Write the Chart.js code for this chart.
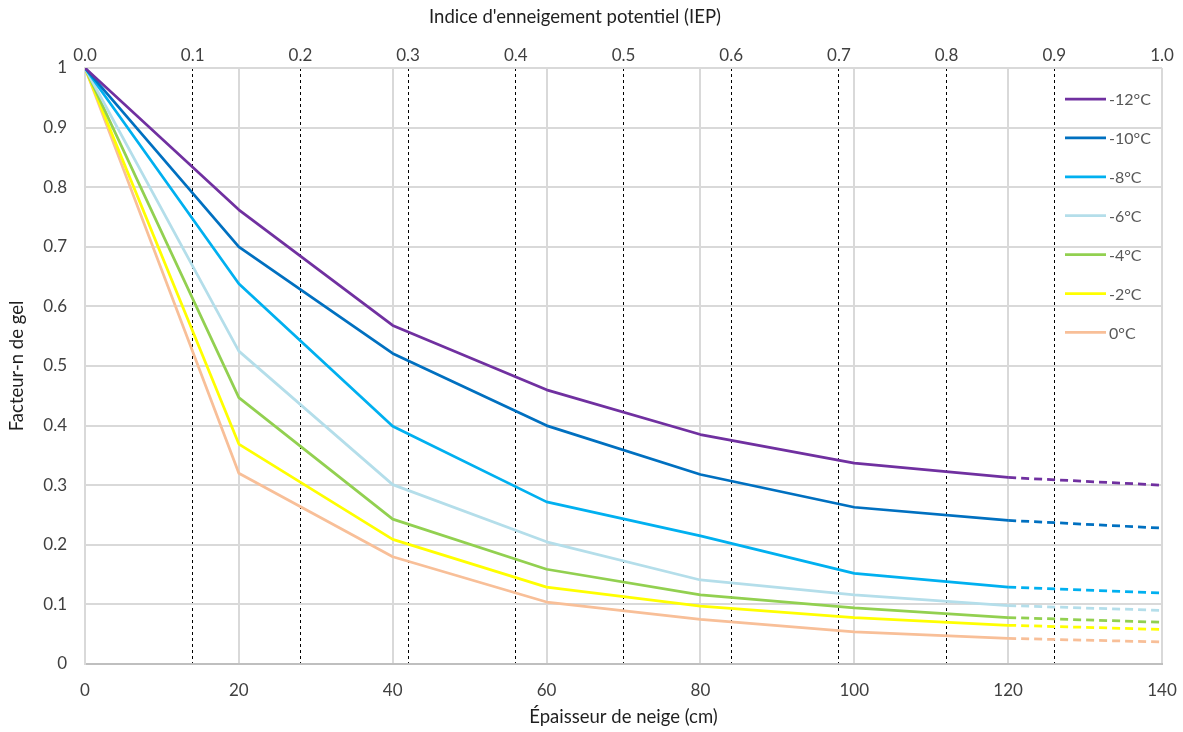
<!DOCTYPE html>
<html lang="fr">
<head>
<meta charset="utf-8">
<title>Facteur-n de gel</title>
<script src="https://cdn.jsdelivr.net/npm/chart.js@4/dist/chart.umd.min.js"></script>
<style>
  html, body { margin: 0; padding: 0; background: #ffffff; }
  canvas { display: block; }
</style>
</head>
<body>
<canvas id="chart" width="1183" height="732"></canvas>
<script>
// Épaisseur de neige (cm)
const thickness = [0, 20, 40, 60, 80, 100, 120, 140];

// Facteur-n de gel par température
const nMinus12 = [1, 0.762, 0.568, 0.460, 0.385, 0.337, 0.313, 0.300];
const nMinus10 = [1, 0.700, 0.521, 0.400, 0.318, 0.263, 0.241, 0.228];
const nMinus8  = [1, 0.638, 0.399, 0.272, 0.215, 0.152, 0.129, 0.119];
const nMinus6  = [1, 0.525, 0.301, 0.205, 0.141, 0.116, 0.098, 0.090];
const nMinus4  = [1, 0.447, 0.243, 0.159, 0.116, 0.094, 0.078, 0.070];
const nMinus2  = [1, 0.369, 0.209, 0.129, 0.097, 0.078, 0.065, 0.058];
const nZero    = [1, 0.320, 0.180, 0.104, 0.075, 0.054, 0.043, 0.037];

const seriesLabels = ['-12°C', '-10°C', '-8°C', '-6°C', '-4°C', '-2°C', '0°C'];
const seriesValues = [nMinus12, nMinus10, nMinus8, nMinus6, nMinus4, nMinus2, nZero];
const seriesColors = ['#7030A0', '#0070C0', '#00B0F0', '#B4DEEA', '#92D050', '#FFFF00', '#F8BF98'];

// Beyond this thickness the curves are extrapolated (dashed)
const extrapolatedFrom = 120;

// Tick labels
const yTickLabels = ['0', '0.1', '0.2', '0.3', '0.4', '0.5', '0.6', '0.7', '0.8', '0.9', '1'];
const xTickLabels = ['0', '20', '40', '60', '80', '100', '120', '140'];
const iepTickLabels = ['0.0', '0.1', '0.2', '0.3', '0.4', '0.5', '0.6', '0.7', '0.8', '0.9', '1.0'];

const xTitle = 'Épaisseur de neige (cm)';
const yTitle = 'Facteur-n de gel';
const topTitle = "Indice d'enneigement potentiel (IEP)";

const FONT = 'Lato, "Open Sans", sans-serif';
const TICK_SIZE = 17;
const TITLE_SIZE = 18.5;

const datasets = seriesValues.map((vals, i) => ({
  label: seriesLabels[i],
  data: thickness.map((x, j) => ({ x: x, y: vals[j] })),
  borderColor: seriesColors[i],
  backgroundColor: seriesColors[i],
  borderWidth: 2.75,
  pointRadius: 0,
  pointHoverRadius: 0,
  borderJoinStyle: 'round',
  fill: false,
  tension: 0,
  xAxisID: 'x',
  yAxisID: 'y',
  segment: {
    borderDash: ctx => ctx.p0.parsed.x >= extrapolatedFrom ? [8, 5] : undefined
  }
}));

// Legend drawn inside the plot, plus the title of the top (IEP) axis
const overlay = {
  id: 'overlay',
  afterDraw(chart) {
    const ctx = chart.ctx;
    ctx.save();
    ctx.font = TITLE_SIZE + 'px ' + FONT;
    ctx.fillStyle = '#1f1f1f';
    ctx.textAlign = 'center';
    ctx.textBaseline = 'middle';
    ctx.fillText(topTitle, 575, 17);

    ctx.font = '16px ' + FONT;
    ctx.textAlign = 'left';
    chart.data.datasets.forEach((ds, i) => {
      const y = 99 + i * 38.9;
      ctx.beginPath();
      ctx.strokeStyle = ds.borderColor;
      ctx.lineWidth = 2.75;
      ctx.setLineDash([]);
      ctx.moveTo(1065, y);
      ctx.lineTo(1106, y);
      ctx.stroke();
      ctx.fillStyle = '#595959';
      ctx.fillText(ds.label, 1109, y + 1);
    });
    ctx.restore();
  }
};

// Fixed axis band sizes; end labels may overhang the plot edges
const fitHorizontal = scale => {
  scale.height = 68;
  scale.paddingLeft = 0;
  scale.paddingRight = 0;
};

new Chart(document.getElementById('chart'), {
  type: 'line',
  data: { datasets: datasets },
  options: {
    responsive: false,
    animation: false,
    devicePixelRatio: 1,
    layout: { padding: { left: 0, right: 21, top: 0, bottom: 0 } },
    plugins: {
      legend: { display: false },
      tooltip: { enabled: false },
      title: { display: false }
    },
    scales: {
      x: {
        type: 'linear',
        position: 'bottom',
        min: 0,
        max: 140,
        ticks: {
          stepSize: 20,
          padding: 16,
          color: '#404040',
          font: { family: FONT, size: TICK_SIZE },
          maxRotation: 0,
          callback: (v, i) => xTickLabels[i]
        },
        grid: { color: '#D9D9D9', lineWidth: 2, drawTicks: false },
        border: { display: true, color: '#BFBFBF', width: 2 },
        title: {
          display: true,
          text: xTitle,
          color: '#1f1f1f',
          font: { family: FONT, size: TITLE_SIZE },
          padding: { top: 0, bottom: 4 }
        },
        afterFit: fitHorizontal
      },
      xIEP: {
        type: 'linear',
        position: 'top',
        min: 0,
        max: 1,
        ticks: {
          stepSize: 0.1,
          padding: 2,
          color: '#404040',
          font: { family: FONT, size: TICK_SIZE },
          maxRotation: 0,
          callback: (v, i) => iepTickLabels[i]
        },
        grid: {
          color: ctx => (ctx.index === 0 || ctx.index === iepTickLabels.length - 1) ? 'rgba(0,0,0,0)' : '#000000',
          lineWidth: 1,
          drawTicks: false
        },
        border: { display: false, dash: [3, 3] },
        afterFit: fitHorizontal
      },
      y: {
        type: 'linear',
        position: 'left',
        min: 0,
        max: 1,
        ticks: {
          stepSize: 0.1,
          padding: 18,
          color: '#404040',
          font: { family: FONT, size: TICK_SIZE },
          callback: (v, i) => yTickLabels[i]
        },
        grid: { color: '#D9D9D9', lineWidth: 2, drawTicks: false },
        border: { display: true, color: '#D9D9D9', width: 2 },
        title: {
          display: true,
          text: yTitle,
          color: '#1f1f1f',
          font: { family: FONT, size: TITLE_SIZE },
          padding: { top: 6, bottom: 0 }
        },
        afterFit: scale => { scale.width = 85; }
      }
    }
  },
  plugins: [overlay]
});
</script>
</body>
</html>
